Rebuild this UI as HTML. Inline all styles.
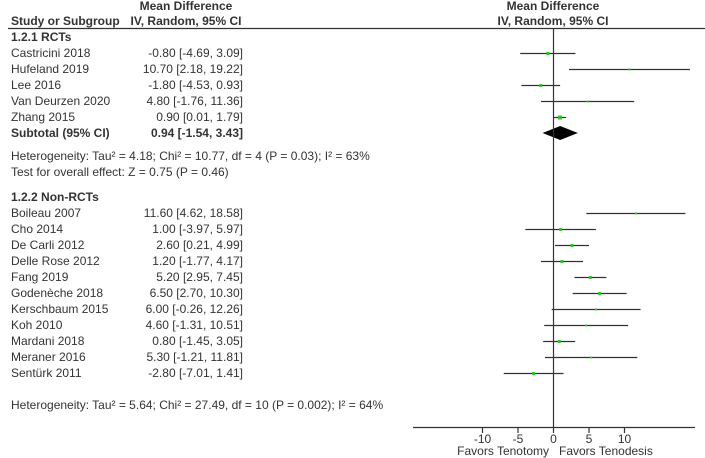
<!DOCTYPE html>
<html><head><meta charset="utf-8"><style>
body{margin:0;background:#fff;width:705px;height:458px;overflow:hidden}
svg{display:block;font-family:"Liberation Sans",Arial,sans-serif;font-size:12px;fill:#333}
.b{font-weight:bold}
</style></head><body>
<svg id="chart" width="705" height="458">
<g id="hdr">
<text x="186" y="10" text-anchor="middle" class="b">Mean Difference</text>
<text x="11" y="25" class="b">Study or Subgroup</text>
<text x="186" y="25" text-anchor="middle" class="b">IV, Random, 95% CI</text>
<text x="553" y="10" text-anchor="middle" class="b">Mean Difference</text>
<text x="553" y="25" text-anchor="middle" class="b">IV, Random, 95% CI</text>
<line x1="8" y1="28.5" x2="705" y2="28.5" stroke="#333" stroke-width="1.2"/>
<text x="11" y="41" class="b">1.2.1 RCTs</text>
<text x="11" y="160">Heterogeneity: Tau² = 4.18; Chi² = 10.77, df = 4 (P = 0.03); I² = 63%</text>
<text x="11" y="176">Test for overall effect: Z = 0.75 (P = 0.46)</text>
<text x="11" y="201" class="b">1.2.2 Non-RCTs</text>
<text x="11" y="409">Heterogeneity: Tau² = 5.64; Chi² = 27.49, df = 10 (P = 0.002); I² = 64%</text>
</g>
<g id="rows"></g>
<g id="axis"></g>
</svg>
<script>
const studies = ["Castricini 2018","Hufeland 2019","Lee 2016","Van Deurzen 2020","Zhang 2015","Boileau 2007","Cho 2014","De Carli 2012","Delle Rose 2012","Fang 2019","Godenèche 2018","Kerschbaum 2015","Koh 2010","Mardani 2018","Meraner 2016","Sentürk 2011"];
const means = [-0.80,10.70,-1.80,4.80,0.90,11.60,1.00,2.60,1.20,5.20,6.50,6.00,4.60,0.80,5.30,-2.80];
const lows = [-4.69,2.18,-4.53,-1.76,0.01,4.62,-3.97,0.21,-1.77,2.95,2.70,-0.26,-1.31,-1.45,-1.21,-7.01];
const highs = [3.09,19.22,0.93,11.36,1.79,18.58,5.97,4.99,4.17,7.45,10.30,12.26,10.51,3.05,11.81,1.41];
const weights = [3,2,3,2,4,2,3,3,3,3,3,2,2,3,2,3];
const rowIndex = [0,1,2,3,4,10,11,12,13,14,15,16,17,18,19,20];
const subtotal = {mean:0.94, low:-1.54, high:3.43};
const ticks = [-10,-5,0,5,10];
const tickLabels = ["-10","-5","0","5","10"];

const NS="http://www.w3.org/2000/svg";
const x = v => 553.5 + v*7.1;
const y = i => 53 + i*16;
function mk(tag, attrs, parent, text){const e=document.createElementNS(NS,tag);for(const k in attrs)e.setAttribute(k,attrs[k]);if(text!=null)e.textContent=text;parent.appendChild(e);return e;}
const rows=document.getElementById('rows'), axis=document.getElementById('axis');
const f=v=>v.toFixed(2);
studies.forEach((s,i)=>{
  const yy=y(rowIndex[i]);
  const t=mk('text',{x:11,y:yy+4},rows,s);
  
  
  const c=mk('text',{x:243,y:yy+4,'text-anchor':'end'},rows,f(means[i])+' ['+f(lows[i])+', '+f(highs[i])+']');
  
  
  const l=mk('line',{x1:x(lows[i]),x2:x(highs[i]),y1:yy+0.5,y2:yy+0.5,stroke:'#333','stroke-width':1.2},rows);
  
  
  const w=weights[i];
  const r=mk('rect',{x:x(means[i])-w/2,y:yy+0.5-w/2,width:w,height:w,fill:'#22cc22'},rows);
  
  
});
const sy=y(5);
const st=mk('text',{x:11,y:sy+4,'font-weight':'bold'},rows,'Subtotal (95% CI)');


const sv=mk('text',{x:243,y:sy+4,'text-anchor':'end','font-weight':'bold'},rows,f(subtotal.mean)+' ['+f(subtotal.low)+', '+f(subtotal.high)+']');


const d=mk('polygon',{points:`${x(subtotal.low)},${sy} ${x(subtotal.mean)},${sy-7} ${x(subtotal.high)},${sy} ${x(subtotal.mean)},${sy+7}`,fill:'#000'},rows);


const zl=mk('line',{x1:x(0),x2:x(0),y1:29,y2:427,stroke:'#333','stroke-width':1.2},axis);


const al=mk('line',{x1:413,x2:695,y1:427.5,y2:427.5,stroke:'#333','stroke-width':1.2},axis);


ticks.forEach((v,i)=>{
  const tk=mk('line',{x1:x(v),x2:x(v),y1:427,y2:433,stroke:'#333','stroke-width':1.2},axis);
  
  
  const tl=mk('text',{x:x(v),y:443,'text-anchor':'middle'},axis,tickLabels[i]);
  
  
});
const fl=mk('text',{x:549,y:455,'text-anchor':'end'},axis,'Favors Tenotomy');


const fr=mk('text',{x:559,y:455},axis,'Favors Tenodesis');


</script>
</body></html>
